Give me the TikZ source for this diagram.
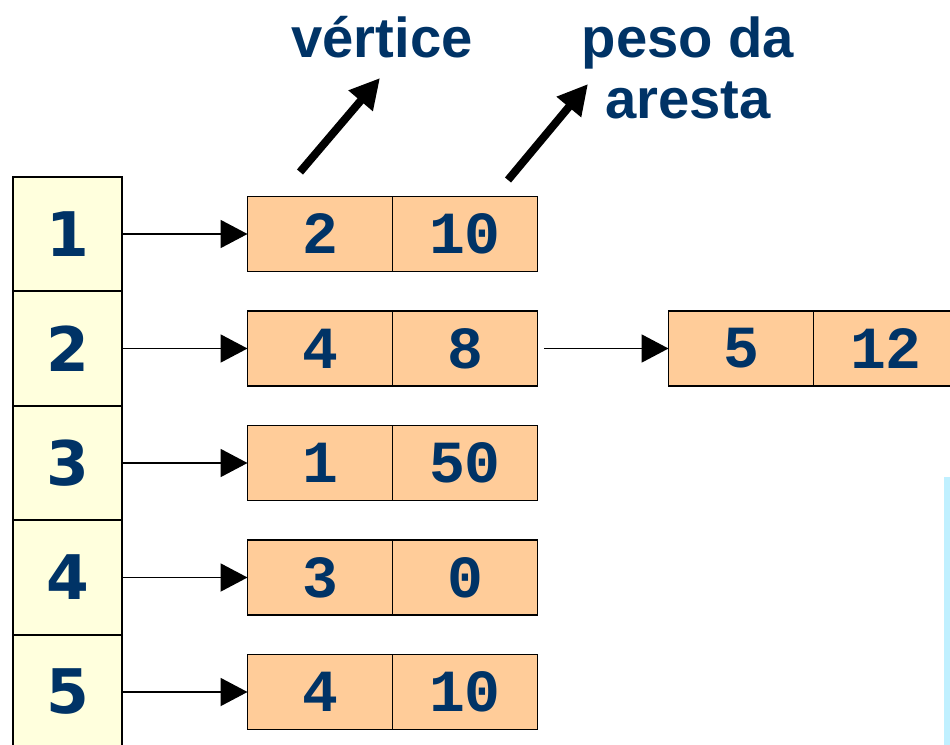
\documentclass[tikz,border=0pt]{standalone}
\usepackage{fontspec}
\setmainfont{Liberation Sans}
\newfontfamily\monobold{Liberation Mono}
\newfontfamily\digitfont{DejaVu Sans}
\usetikzlibrary{positioning}
\usetikzlibrary{arrows.meta}
\definecolor{textblue}{HTML}{003366}
\definecolor{cellyellow}{HTML}{FFFFDD}
\definecolor{boxorange}{HTML}{FFCC99}
\definecolor{stripeblue}{HTML}{C0F0FF}
\tikzset{
	cell/.style={
		rectangle,
		draw,
		fill=cellyellow,
		line width=1pt,
		outer sep=0pt,
		minimum width=2.18cm,
		minimum height=2.29cm,
		inner sep=0pt,
		text=textblue,
		font=\digitfont\bfseries\fontsize{35}{38}\selectfont
	},
	field/.style={
		rectangle,
		draw,
		fill=boxorange,
		line width=1pt,
		outer sep=0pt,
		minimum width=2.9cm,
		minimum height=1.5cm,
		inner sep=0pt,
		text=textblue,
		font=\monobold\bfseries\fontsize{34}{36}\selectfont
	},
	link/.style={-{Triangle[length=5.4mm,width=5.6mm]}, line width=1.1pt},
	pointer/.style={-{Triangle[length=6mm,width=6mm]}, line width=4.5pt},
	headline/.style={
		text=textblue,
		align=center,
		font=\bfseries\fontsize{32}{35}\selectfont
	}
}
\begin{document}
\begin{tikzpicture}[x=0.02cm, y=-0.02cm]
	\useasboundingbox (0,0) rectangle (950,744);
	\clip (0,0) rectangle (950,744);
	
	% adjacency list
	\foreach \n/\y/\a/\b in {1/234/2/10, 2/348.5/4/8, 3/463/1/50, 4/577.5/3/0, 5/692/4/10} {
		\node[cell] (c\n) at (67.5,\y) {\n};
		\node[field] (v\n) at (320,\y) {\a};
		\node[field, right=0pt of v\n] (w\n) {\b};
		\draw[link] (c\n) -- (v\n);
	}
	\node[field] (v6) at (741,348.5) {5};
	\node[field, right=0pt of v6] (w6) {12};
	\draw[link, shorten <=0.14cm] (w2) -- (v6);
	
	% captions
	\node[headline] (vlabel) at (382,37) {vértice};
	\node[headline] (plabel) at (688,68) {peso da\\aresta};
	\coordinate (vtail) at (300,172);
	\coordinate (vhead) at (380,78);
	\coordinate (ptail) at (508,180);
	\coordinate (phead) at (588,84);
	\draw[pointer] (vtail) -- (vhead);
	\draw[pointer] (ptail) -- (phead);
	
	\fill[stripeblue] (944,477) rectangle (951,745);
\end{tikzpicture}
\end{document}
